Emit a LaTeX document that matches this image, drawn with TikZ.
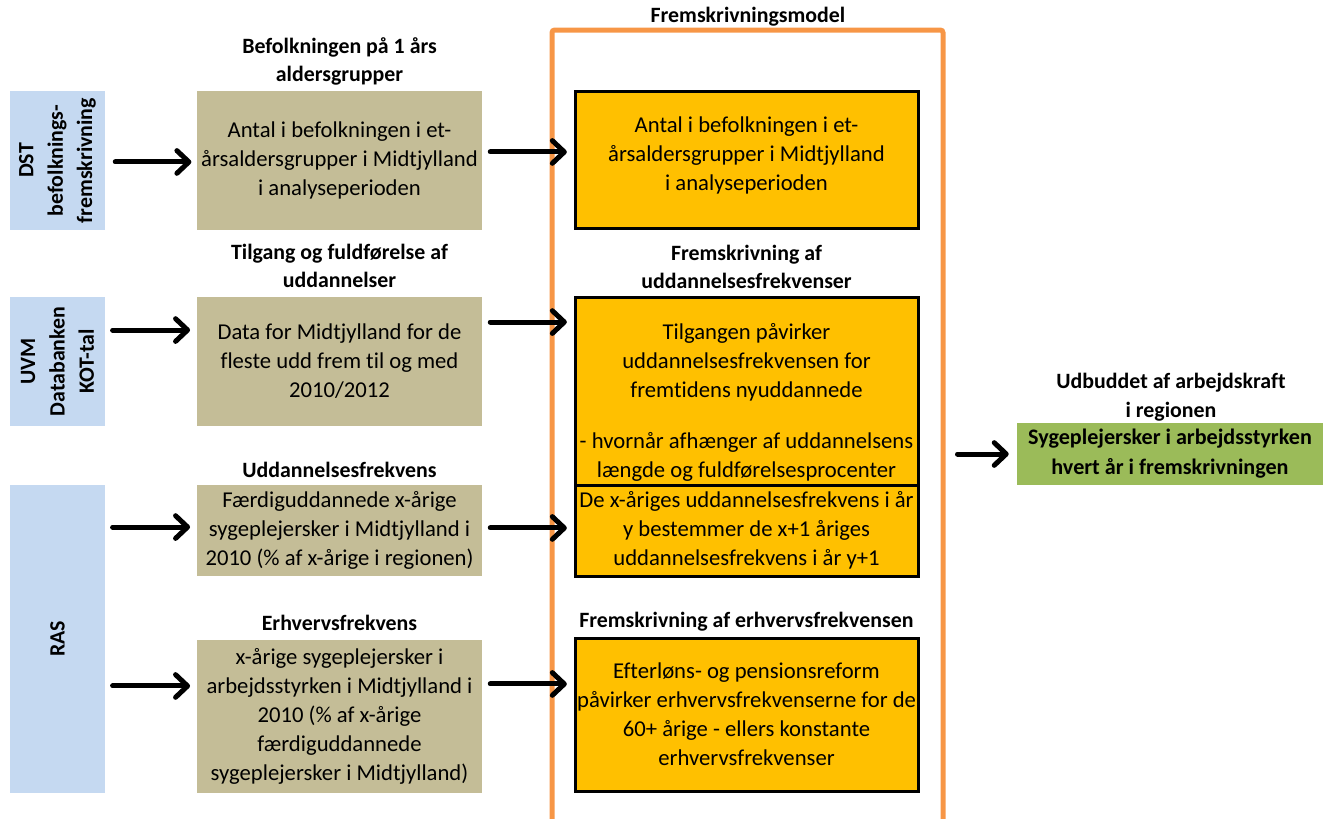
\documentclass[tikz,border=0pt]{standalone}
\usepackage{fontspec}
\setmainfont{Carlito}[Ligatures={NoCommon}]
\usetikzlibrary{arrows.meta}
\definecolor{srcblue}{HTML}{C5D9F1}
\definecolor{tanfill}{HTML}{C4BD97}
\definecolor{yelfill}{HTML}{FFC000}
\definecolor{frameorange}{HTML}{F79646}
\definecolor{greenfill}{HTML}{9BBB59}
\begin{document}
\begin{tikzpicture}[x=0.75pt,y=-0.75pt,
  txt/.style={font=\fontsize{17}{21.75}\selectfont, align=center, inner sep=0pt},
  ttl/.style={font=\bfseries\fontsize{16.4}{21}\selectfont, align=center, inner sep=0pt},
  srcbox/.style={fill=srcblue, draw=none, minimum width=71.25pt, inner sep=0pt},
  srctxt/.style={font=\bfseries\fontsize{16.4}{22}\selectfont, align=center, inner sep=0pt, rotate=90},
  tanbox/.style={fill=tanfill, draw=none, minimum width=213.75pt, inner sep=0pt, txt},
  ybox/.style={fill=yelfill, draw=black, line width=2.25pt, minimum width=257.25pt, inner sep=0pt, txt},
  arr/.style={-{Straight Barb[length=9pt,width=17pt,line cap=round,line join=round]}, line width=3.75pt, line cap=round}
]
\useasboundingbox (0,0) rectangle (1323,818);

% orange frame
\node[draw=frameorange, line width=3.75pt, rounded corners=2pt, minimum width=293.25pt, minimum height=607.5pt, inner sep=0pt] (frame) at (747.5,435) {};
\node[ttl] (frametitle) at (748,17) {Fremskrivningsmodel};

% source boxes
\node[srcbox, minimum height=104.25pt] (b1) at (57.5,160.5) {};
\node[srctxt] (b1t) at (b1) {DST\\befolknings-\\fremskrivning};
\node[srcbox, minimum height=96.75pt] (b2) at (57.5,361.5) {};
\node[srctxt] (b2t) at (b2) {UVM\\Databanken\\KOT-tal};
\node[srcbox, minimum height=231pt] (b3) at (57.5,639) {};
\node[srctxt] (b3t) at (b3) {RAS};

% tan boxes
\node[ttl] (t1title) at (339.5,61.5) {Befolkningen på 1 års\\aldersgrupper};
\node[tanbox, minimum height=104.25pt] (t1) at (339.5,160.5) {Antal i befolkningen i et-\\årsaldersgrupper i Midtjylland\\i analyseperioden};
\node[ttl] (t2title) at (339.5,266) {Tilgang og fuldførelse af\\uddannelser};
\node[tanbox, minimum height=96.75pt] (t2) at (339.5,361.5) {Data for Midtjylland for de\\fleste udd frem til og med\\2010/2012};
\node[ttl] (t3title) at (339.5,470) {Uddannelsesfrekvens};
\node[tanbox, minimum height=68.25pt] (t3) at (339.5,530.5) {Færdiguddannede x-årige\\sygeplejersker i Midtjylland i\\2010 (\% af x-årige i regionen)};
\node[ttl] (t4title) at (339.5,623) {Erhvervsfrekvens};
\node[tanbox, minimum height=114.75pt] (t4) at (339.5,716.5) {x-årige sygeplejersker i\\arbejdsstyrken i Midtjylland i\\2010 (\% af x-årige\\færdiguddannede\\sygeplejersker i Midtjylland)};

% yellow boxes
\node[ybox, minimum height=102.75pt] (y1) at (746.5,159.5) {};
\node[txt] (y1t) at (746.5,155) {Antal i befolkningen i et-\\årsaldersgrupper i Midtjylland\\i analyseperioden};
\node[ttl] (y2title) at (746.5,267) {Fremskrivning af\\uddannelsesfrekvenser};
\node[ybox, minimum height=141pt] (y2) at (746.5,391) {};
\node[txt] (y2t) at (746.5,402) {Tilgangen påvirker\\uddannelsesfrekvensen for\\fremtidens nyuddannede\\[16.5pt]- hvornår afhænger af uddannelsens\\længde og fuldførelsesprocenter};
\node[ybox, minimum height=68.25pt] (y3) at (746.5,530.5) {De x-åriges uddannelsesfrekvens i år\\y bestemmer de x+1 åriges\\uddannelsesfrekvens i år y+1};
\node[ttl] (y4title) at (746.5,622) {Fremskrivning af erhvervsfrekvensen};
\node[ybox, minimum height=114.75pt] (y4) at (746.5,714.5) {Efterløns- og pensionsreform\\påvirker erhvervsfrekvenserne for de\\60+ årige - ellers konstante\\erhvervsfrekvenser};

% result
\node[ttl, font=\bfseries\fontsize{16.4}{22}\selectfont] (gtitle) at (1171,397) {Udbuddet af arbejdskraft\\i regionen};
\node[fill=greenfill, minimum width=229.5pt, minimum height=46.5pt, inner sep=0pt, ttl, font=\bfseries\fontsize{16.6}{22.5}\selectfont] (g) at (1170,454) {Sygeplejersker i arbejdsstyrken\\hvert år i fremskrivningen};

% arrows left
\draw[arr] ([xshift=7.5pt,yshift=-1.1pt]b1.east) -- ([xshift=-4pt,yshift=-1.1pt]t1.west);
\draw[arr] ([xshift=5.5pt,yshift=23.6pt]b2.east) -- ([xshift=-5pt,yshift=23.6pt]t2.west);
\draw[arr] ([xshift=5.5pt,yshift=2.6pt]b3.east |- t3.west) -- ([xshift=-5pt,yshift=2.6pt]t3.west);
\draw[arr] ([xshift=5.5pt,yshift=22.9pt]b3.east |- t4.west) -- ([xshift=-5pt,yshift=22.9pt]t4.west);

% arrows middle
\draw[arr] ([xshift=6pt,yshift=6.4pt]t1.east) -- ([xshift=-5pt,yshift=6.4pt]t1.east -| y1.west);
\draw[arr] ([xshift=6pt,yshift=29.6pt]t2.east) -- ([xshift=-5pt,yshift=29.6pt]t2.east -| y2.west);
\draw[arr] ([xshift=6pt,yshift=1.9pt]t3.east) -- ([xshift=-5pt,yshift=1.9pt]y3.west);
\draw[arr] ([xshift=6pt,yshift=24.4pt]t4.east) -- ([xshift=-5pt,yshift=24.4pt]t4.east -| y4.west);

% arrow right
\draw[arr] ([xshift=9pt]frame.east |- g.west) -- ([xshift=-6pt]g.west);
\end{tikzpicture}
\end{document}
